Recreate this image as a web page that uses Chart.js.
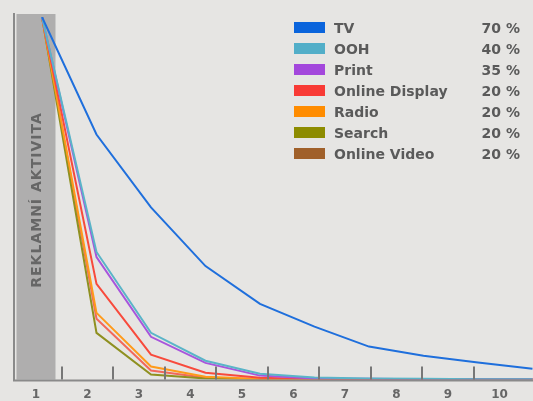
<!DOCTYPE html>
<html>
<head>
<meta charset="utf-8">
<script src="https://cdn.jsdelivr.net/npm/chart.js@4"></script>
<style>
  html, body { margin: 0; padding: 0; background: #e6e5e3; }
  #wrap { position: relative; width: 533px; height: 401px; }
  #legend { position: absolute; left: 294px; top: 19px; width: 226px; font-family: 'DejaVu Sans', sans-serif; font-weight: bold; font-size: 14px; color: #5a5a5a; }
  .row { position: relative; height: 21px; }
  .box { position: absolute; left: 0; top: 3px; width: 31px; height: 11px; }
  .name { position: absolute; left: 40px; top: 0; line-height: 18px; }
  .pct { position: absolute; right: 0; top: 0; line-height: 18px; }
</style>
</head>
<body>
<div id="wrap">
  <canvas id="myChart" width="533" height="401"></canvas>
  <div id="legend"></div>
</div>
<script>
// categories, series and tick labels
const steps = [1, 2, 3, 4, 5, 6, 7, 8, 9, 10];
const xLabels = ['1', '2', '3', '4', '5', '6', '7', '8', '9', '10'];
const names = ['TV', 'OOH', 'Print', 'Online Display', 'Radio', 'Search', 'Online Video'];
const shares = ['70 %', '40 %', '35 %', '20 %', '20 %', '20 %', '20 %'];
const legendColors = ['#0a64dc', '#52aec8', '#a347dc', '#f83a35', '#ff8c00', '#8d8c00', '#a0602a'];
const lineColors = ['#1f6fdc', '#5ab4c8', '#a855dc', '#f84a3c', '#ff9a1a', '#8f9020', '#f2685c'];

const tv = [100, 67.6, 47.5, 31.3, 20.9, 14.6, 9.1, 6.6, 4.7, 3.0];
const ooh = [100, 35.2, 12.9, 5.2, 1.6, 0.6, 0.3, 0.2, 0.1, 0.1];
const print = [100, 33.8, 11.8, 4.6, 1.1, 0.3, 0.2, 0.1, 0.1, 0.1];
const onlineDisplay = [100, 26.4, 6.9, 1.9, 0.5, 0.2, 0.1, 0.1, 0, 0];
const radio = [100, 18.4, 3.6, 0.8, 0.2, 0.1, 0, 0, 0, 0];
const search = [100, 12.9, 1.4, 0.3, 0.1, 0, 0, 0, 0, 0];
const onlineVideo = [100, 16.8, 2.5, 0.5, 0.1, 0, 0, 0, 0, 0];
const series = [tv, ooh, print, onlineDisplay, radio, search, onlineVideo];

// legend
const legend = document.getElementById('legend');
names.forEach((n, i) => {
    const row = document.createElement('div');
    row.className = 'row';
    row.innerHTML = '<span class="box" style="background:' + legendColors[i] + '"></span>' +
        '<span class="name">' + n + '</span><span class="pct">' + shares[i] + '</span>';
    legend.appendChild(row);
});

// grey band, axis lines and small tick marks
const decor = {
    id: 'decor',
    beforeDatasetsDraw(chart) {
        const c = chart.ctx, a = chart.chartArea, x2 = chart.scales.x2;
        c.save();
        const cx = x2.getPixelForValue(1);
        c.fillStyle = '#afaeae';
        c.fillRect(cx - 19.5, a.top - 3, 39, a.bottom - a.top + 3);
        c.translate(cx + 1, 200);
        c.rotate(-Math.PI / 2);
        c.fillStyle = '#666';
        c.font = 'bold 14px "DejaVu Sans"';
        c.letterSpacing = '1px';
        c.textAlign = 'center';
        c.textBaseline = 'middle';
        c.fillText('REKLAMNÍ AKTIVITA', 0, 0);
        c.restore();
    },
    afterDatasetsDraw(chart) {
        const c = chart.ctx, a = chart.chartArea, x2 = chart.scales.x2;
        c.save();
        c.strokeStyle = '#8a8a8a';
        c.lineWidth = 2;
        c.beginPath();
        c.moveTo(a.left, a.top - 4);
        c.lineTo(a.left, a.bottom + 1);
        c.lineTo(a.right, a.bottom + 1);
        c.stroke();
        c.strokeStyle = '#777';
        for (let k = 1; k < 10; k++) {
            const px = Math.round(x2.getPixelForValue(k + 0.5));
            c.beginPath();
            c.moveTo(px, a.bottom);
            c.lineTo(px, a.bottom - 13);
            c.stroke();
        }
        c.restore();
    }
};

document.addEventListener("DOMContentLoaded", function() {
    const ctx = document.getElementById('myChart').getContext('2d');
    const myChart = new Chart(ctx, {
        type: 'line',
        data: {
            labels: steps,
            datasets: series.map((d, i) => ({
                label: names[i],
                data: d,
                borderColor: lineColors[i],
                borderWidth: 2,
                pointRadius: 0,
                tension: 0,
                xAxisID: 'x',
                yAxisID: 'y'
            }))
        },
        options: {
            responsive: false,
            animation: false,
            layout: { padding: { left: 14, top: 17, right: 0, bottom: -9 } },
            scales: {
                x: {
                    type: 'linear',
                    display: false,
                    min: 0.486,
                    max: 10.01
                },
                x2: {
                    type: 'linear',
                    position: 'bottom',
                    min: 0.573,
                    max: 10.65,
                    border: { display: false },
                    grid: { display: false, drawTicks: false },
                    afterBuildTicks: (scale) => { scale.ticks = steps.map(v => ({ value: v })); },
                    ticks: {
                        autoSkip: false,
                        maxRotation: 0,
                        padding: 8,
                        color: '#666',
                        callback: (v) => xLabels[steps.indexOf(v)],
                        font: {
                            family: 'DejaVu Sans',
                            weight: 'bold',
                            size: 12
                        }
                    }
                },
                y: {
                    display: false,
                    min: 0,
                    max: 100
                }
            },
            plugins: {
                legend: { display: false },
                title: { display: false },
                tooltip: { enabled: false }
            }
        },
        plugins: [decor]
    });
});
</script>
</body>
</html>
